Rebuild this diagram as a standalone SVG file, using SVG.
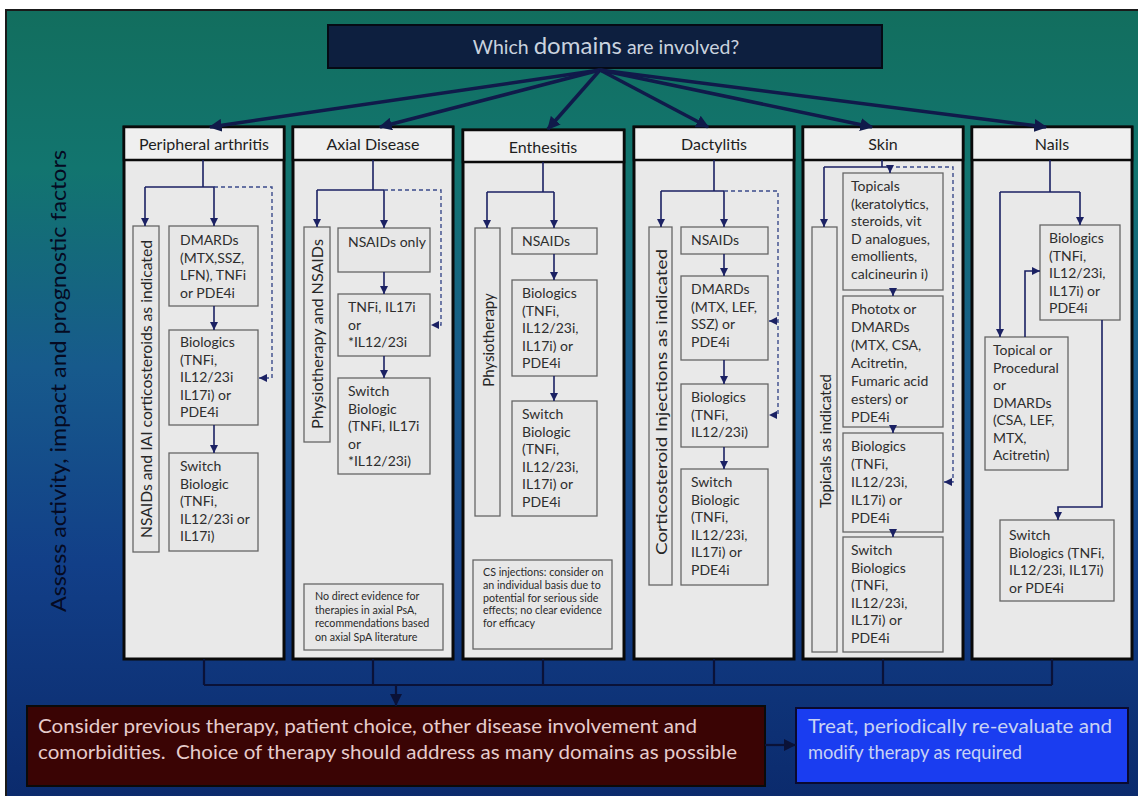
<svg xmlns="http://www.w3.org/2000/svg" width="1138" height="796" viewBox="0 0 1138 796">
<defs>
<linearGradient id="bg" x1="0" y1="0" x2="0" y2="1">
<stop offset="0" stop-color="#126e5e"/>
<stop offset="0.2" stop-color="#12756f"/>
<stop offset="0.45" stop-color="#175a8c"/>
<stop offset="0.7" stop-color="#123f88"/>
<stop offset="1" stop-color="#0b2a6c"/>
</linearGradient>
<marker id="ah" viewBox="0 0 10 10" refX="10" refY="5" markerWidth="8" markerHeight="8" markerUnits="userSpaceOnUse" orient="auto"><path d="M0,0 L10,5 L0,10 z" fill="#1b2163"/></marker>
<marker id="ahb" viewBox="0 0 10 10" refX="9" refY="5" markerWidth="13" markerHeight="13" markerUnits="userSpaceOnUse" orient="auto"><path d="M0,0 L10,5 L0,10 z" fill="#101a4a"/></marker>
<marker id="ahd" viewBox="0 0 10 10" refX="10" refY="5" markerWidth="12" markerHeight="12" markerUnits="userSpaceOnUse" orient="auto"><path d="M0,0 L10,5 L0,10 z" fill="#0a1238"/></marker>
<style>
.col{fill:#e9e9e9;stroke:#0a0a0a;stroke-width:3}
.hdr{fill:#efefef;stroke:#0a0a0a;stroke-width:2.5}
.ht{font-family:Lato,"Open Sans",sans-serif;font-size:16px;fill:#1e1e1e;text-anchor:middle}
.box{fill:#e7e7e7;stroke:#666;stroke-width:1.3}
.bt{font-family:Lato,"Open Sans",sans-serif;font-size:14px;fill:#2e2e2e}
.vt{font-family:Lato,"Open Sans",sans-serif;font-size:15px;fill:#262626;text-anchor:middle;dominant-baseline:central}
.nt{font-family:Lato,"Open Sans",sans-serif;font-size:10.7px;fill:#2a2a2a}
.c{fill:none;stroke:#1b2163;stroke-width:1.6}
.d{fill:none;stroke:#3a4a8a;stroke-width:1.4;stroke-dasharray:4 3}
.a{marker-end:url(#ah)}
.big{fill:none;stroke:#101a4a;stroke-width:3.5;marker-end:url(#ahb)}
.bot{fill:none;stroke:#0a1238;stroke-width:2.2}
.ad{marker-end:url(#ahd)}
</style>
</defs>
<rect x="0" y="0" width="1138" height="796" fill="#ffffff"/>
<rect x="6" y="10" width="1140" height="792" fill="url(#bg)" stroke="#1a1a1a" stroke-width="2"/>

<g id="left-label">
<text transform="translate(57,381) rotate(-90)" font-family="Lato,'Open Sans',sans-serif" font-size="22" fill="#050a22" text-anchor="middle" dominant-baseline="central" textLength="462" lengthAdjust="spacingAndGlyphs">Assess activity, impact and prognostic factors</text>
</g>

<g id="title">
<rect x="328" y="25" width="554" height="43" fill="#0d1f3f" stroke="#050a14" stroke-width="2"/>
<text x="606" y="54" font-family="Lato,'Open Sans',sans-serif" font-size="19.5" fill="#c9d2de" text-anchor="middle">Which <tspan font-size="24">domains</tspan> are involved?</text>
</g>

<!-- Column 1 -->
<g id="col-peripheral">
<rect class="col" x="124" y="127" width="160" height="532"/>
<rect class="hdr" x="124" y="127" width="160" height="33"/>
<text class="ht" x="204" y="150">Peripheral arthritis</text>
<g id="p-nsaids"><rect class="box" x="133" y="226" width="26" height="326"/><text class="vt" transform="translate(146,389) rotate(-90)" textLength="298" lengthAdjust="spacingAndGlyphs">NSAIDs and IAI corticosteroids as indicated</text></g>
<g id="p-dmards"><rect class="box" x="169" y="226" width="89" height="80"/><text class="bt" x="180" y="245">DMARDs<tspan x="180" dy="17.5">(MTX,SSZ,</tspan><tspan x="180" dy="17.5">LFN), TNFi</tspan><tspan x="180" dy="17.5">or PDE4i</tspan></text></g>
<g id="p-bio"><rect class="box" x="169" y="330" width="89" height="95"/><text class="bt" x="180" y="347">Biologics<tspan x="180" dy="17.5">(TNFi,</tspan><tspan x="180" dy="17.5">IL12/23i</tspan><tspan x="180" dy="17.5">IL17i) or</tspan><tspan x="180" dy="17.5">PDE4i</tspan></text></g>
<g id="p-switch"><rect class="box" x="169" y="453" width="89" height="98"/><text class="bt" x="180" y="471">Switch<tspan x="180" dy="17.5">Biologic</tspan><tspan x="180" dy="17.5">(TNFi,</tspan><tspan x="180" dy="17.5">IL12/23i or</tspan><tspan x="180" dy="17.5">IL17i)</tspan></text></g>
</g>

<!-- Column 2 -->
<g id="col-axial">
<rect class="col" x="293" y="127" width="160" height="532"/>
<rect class="hdr" x="293" y="127" width="160" height="33"/>
<text class="ht" x="373" y="150">Axial Disease</text>
<g id="a-physio"><rect class="box" x="304" y="227" width="26" height="215"/><text class="vt" transform="translate(317,334) rotate(-90)" textLength="190" lengthAdjust="spacingAndGlyphs">Physiotherapy and NSAIDs</text></g>
<g id="a-nsaids"><rect class="box" x="338" y="228" width="92" height="44"/><text class="bt" x="348" y="247">NSAIDs only</text></g>
<g id="a-tnfi"><rect class="box" x="338" y="294" width="92" height="62"/><text class="bt" x="348" y="312">TNFi, IL17i<tspan x="348" dy="17.5">or</tspan><tspan x="348" dy="17.5">*IL12/23i</tspan></text></g>
<g id="a-switch"><rect class="box" x="338" y="378" width="92" height="96"/><text class="bt" x="348" y="396">Switch<tspan x="348" dy="17.5">Biologic</tspan><tspan x="348" dy="17.5">(TNFi, IL17i</tspan><tspan x="348" dy="17.5">or</tspan><tspan x="348" dy="17.5">*IL12/23i)</tspan></text></g>
<g id="a-note"><rect class="box" x="304" y="584" width="139" height="66"/><text class="nt" x="315" y="600">No direct evidence for<tspan x="315" dy="13.5">therapies in axial PsA,</tspan><tspan x="315" dy="13.5">recommendations based</tspan><tspan x="315" dy="13.5">on axial SpA literature</tspan></text></g>
</g>

<!-- Column 3 -->
<g id="col-enthesitis">
<rect class="col" x="463" y="130" width="161" height="529"/>
<rect class="hdr" x="463" y="130" width="161" height="32"/>
<text class="ht" x="543" y="153">Enthesitis</text>
<g id="e-physio"><rect class="box" x="475" y="228" width="25" height="288"/><text class="vt" transform="translate(487.5,340) rotate(-90)">Physiotherapy</text></g>
<g id="e-nsaids"><rect class="box" x="512" y="228" width="85" height="26"/><text class="bt" x="522" y="246">NSAIDs</text></g>
<g id="e-bio"><rect class="box" x="512" y="280" width="85" height="96"/><text class="bt" x="522" y="298">Biologics<tspan x="522" dy="17.5">(TNFi,</tspan><tspan x="522" dy="17.5">IL12/23i,</tspan><tspan x="522" dy="17.5">IL17i) or</tspan><tspan x="522" dy="17.5">PDE4i</tspan></text></g>
<g id="e-switch"><rect class="box" x="512" y="401" width="85" height="115"/><text class="bt" x="522" y="419">Switch<tspan x="522" dy="17.5">Biologic</tspan><tspan x="522" dy="17.5">(TNFi,</tspan><tspan x="522" dy="17.5">IL12/23i,</tspan><tspan x="522" dy="17.5">IL17i) or</tspan><tspan x="522" dy="17.5">PDE4i</tspan></text></g>
<g id="e-note"><rect class="box" x="473" y="560" width="139" height="89"/><text class="nt" x="483" y="576">CS injections: consider on<tspan x="483" dy="12.8">an individual basis due to</tspan><tspan x="483" dy="12.8">potential for serious side</tspan><tspan x="483" dy="12.8">effects; no clear evidence</tspan><tspan x="483" dy="12.8">for efficacy</tspan></text></g>
</g>

<!-- Column 4 -->
<g id="col-dactylitis">
<rect class="col" x="634" y="127" width="160" height="532"/>
<rect class="hdr" x="634" y="127" width="160" height="33"/>
<text class="ht" x="714" y="150">Dactylitis</text>
<g id="d-cs"><rect class="box" x="649" y="227" width="23" height="358"/><text class="vt" transform="translate(660.5,402) rotate(-90)" textLength="306" lengthAdjust="spacingAndGlyphs">Corticosteroid Injections as indicated</text></g>
<g id="d-nsaids"><rect class="box" x="681" y="227" width="87" height="27"/><text class="bt" x="691" y="245">NSAIDs</text></g>
<g id="d-dmards"><rect class="box" x="681" y="276" width="87" height="84"/><text class="bt" x="691" y="294">DMARDs<tspan x="691" dy="17.5">(MTX, LEF,</tspan><tspan x="691" dy="17.5">SSZ) or</tspan><tspan x="691" dy="17.5">PDE4i</tspan></text></g>
<g id="d-bio"><rect class="box" x="681" y="384" width="87" height="63"/><text class="bt" x="691" y="402">Biologics<tspan x="691" dy="17.5">(TNFi,</tspan><tspan x="691" dy="17.5">IL12/23i)</tspan></text></g>
<g id="d-switch"><rect class="box" x="681" y="469" width="87" height="116"/><text class="bt" x="691" y="487">Switch<tspan x="691" dy="17.5">Biologic</tspan><tspan x="691" dy="17.5">(TNFi,</tspan><tspan x="691" dy="17.5">IL12/23i,</tspan><tspan x="691" dy="17.5">IL17i) or</tspan><tspan x="691" dy="17.5">PDE4i</tspan></text></g>
</g>

<!-- Column 5 -->
<g id="col-skin">
<rect class="col" x="803" y="127" width="160" height="532"/>
<rect class="hdr" x="803" y="127" width="160" height="33"/>
<text class="ht" x="883" y="150">Skin</text>
<g id="s-topicals-ind"><rect class="box" x="812" y="227" width="25" height="425"/><text class="vt" transform="translate(824.5,441) rotate(-90)">Topicals as indicated</text></g>
<g id="s-topicals"><rect class="box" x="843" y="173" width="100" height="117"/><text class="bt" x="851" y="191">Topicals<tspan x="851" dy="17.5">(keratolytics,</tspan><tspan x="851" dy="17.5">steroids, vit</tspan><tspan x="851" dy="17.5">D analogues,</tspan><tspan x="851" dy="17.5">emollients,</tspan><tspan x="851" dy="17.5">calcineurin i)</tspan></text></g>
<g id="s-phototx"><rect class="box" x="843" y="296" width="100" height="131"/><text class="bt" x="851" y="314">Phototx or<tspan x="851" dy="18">DMARDs</tspan><tspan x="851" dy="18">(MTX, CSA,</tspan><tspan x="851" dy="18">Acitretin,</tspan><tspan x="851" dy="18">Fumaric acid</tspan><tspan x="851" dy="18">esters) or</tspan><tspan x="851" dy="18">PDE4i</tspan></text></g>
<g id="s-bio"><rect class="box" x="843" y="433" width="100" height="99"/><text class="bt" x="851" y="451">Biologics<tspan x="851" dy="18">(TNFi,</tspan><tspan x="851" dy="18">IL12/23i,</tspan><tspan x="851" dy="18">IL17i) or</tspan><tspan x="851" dy="18">PDE4i</tspan></text></g>
<g id="s-switch"><rect class="box" x="843" y="537" width="100" height="115"/><text class="bt" x="851" y="555">Switch<tspan x="851" dy="17.5">Biologics</tspan><tspan x="851" dy="17.5">(TNFi,</tspan><tspan x="851" dy="17.5">IL12/23i,</tspan><tspan x="851" dy="17.5">IL17i) or</tspan><tspan x="851" dy="17.5">PDE4i</tspan></text></g>
</g>

<!-- Column 6 -->
<g id="col-nails">
<rect class="col" x="972" y="127" width="160" height="532"/>
<rect class="hdr" x="972" y="127" width="160" height="33"/>
<text class="ht" x="1052" y="150">Nails</text>
<g id="n-bio"><rect class="box" x="1040" y="225" width="80" height="95"/><text class="bt" x="1049" y="243">Biologics<tspan x="1049" dy="17.5">(TNFi,</tspan><tspan x="1049" dy="17.5">IL12/23i,</tspan><tspan x="1049" dy="17.5">IL17i) or</tspan><tspan x="1049" dy="17.5">PDE4i</tspan></text></g>
<g id="n-topical"><rect class="box" x="985" y="337" width="83" height="133"/><text class="bt" x="993" y="355">Topical or<tspan x="993" dy="17.5">Procedural</tspan><tspan x="993" dy="17.5">or</tspan><tspan x="993" dy="17.5">DMARDs</tspan><tspan x="993" dy="17.5">(CSA, LEF,</tspan><tspan x="993" dy="17.5">MTX,</tspan><tspan x="993" dy="17.5">Acitretin)</tspan></text></g>
<g id="n-switch"><rect class="box" x="1000" y="520" width="114" height="81"/><text class="bt" x="1009" y="540">Switch<tspan x="1009" dy="17.5">Biologics (TNFi,</tspan><tspan x="1009" dy="17.5">IL12/23i, IL17i)</tspan><tspan x="1009" dy="17.5">or PDE4i</tspan></text></g>
</g>

<g id="bottom-left">
<rect x="27" y="706" width="738" height="80" fill="#3a0404" stroke="#0a0a0a" stroke-width="2"/>
<text font-family="Lato,'Open Sans',sans-serif" font-size="19" fill="#e6cccc"><tspan x="38" y="733" textLength="659" lengthAdjust="spacingAndGlyphs">Consider previous therapy, patient choice, other disease involvement and</tspan><tspan x="38" y="759" textLength="699" lengthAdjust="spacingAndGlyphs">comorbidities.&#160; Choice of therapy should address as many domains as possible</tspan></text>
</g>
<g id="bottom-right">
<rect x="796" y="708" width="332" height="75" fill="#1a3df0" stroke="#0a0a30" stroke-width="2"/>
<text font-family="Lato,'Open Sans',sans-serif" font-size="19" fill="#c8d2f4"><tspan x="808" y="733" textLength="304" lengthAdjust="spacingAndGlyphs">Treat, periodically re-evaluate and</tspan><tspan x="808" y="759" textLength="214" lengthAdjust="spacingAndGlyphs">modify therapy as required</tspan></text>
</g>

<g id="connectors">
<path class="big" d="M600,70 L210,127"/>
<path class="big" d="M600,70 L380,127"/>
<path class="big" d="M600,70 L548,129"/>
<path class="big" d="M600,70 L708,127"/>
<path class="big" d="M600,70 L872,127"/>
<path class="big" d="M600,70 L1046,127"/>
<path class="c" d="M203,160 V187 M145,187 H215"/>
<path class="c a" d="M145,187 V226"/>
<path class="c a" d="M214,187 V226"/>
<path class="d a" d="M214,187 H272 V378 H259"/>
<path class="c a" d="M214,306 V330"/>
<path class="c a" d="M214,425 V453"/>
<path class="c" d="M373,160 V190 M317,190 H384"/>
<path class="c a" d="M317,190 V227"/>
<path class="c a" d="M384,190 V228"/>
<path class="d a" d="M384,190 H441 V325 H431"/>
<path class="c a" d="M384,272 V294"/>
<path class="c a" d="M384,356 V378"/>
<path class="c" d="M543,162 V192 M487,192 H554"/>
<path class="c a" d="M487,192 V228"/>
<path class="c a" d="M554,192 V228"/>
<path class="c a" d="M554,254 V280"/>
<path class="c a" d="M554,376 V401"/>
<path class="c" d="M714,160 V191 M661,191 H724"/>
<path class="c a" d="M661,191 V227"/>
<path class="c a" d="M724,191 V227"/>
<path class="d a" d="M724,191 H778 V415 H769"/>
<path class="d a" d="M778,321 H769"/>
<path class="c a" d="M724,254 V276"/>
<path class="c a" d="M724,360 V384"/>
<path class="c a" d="M724,447 V469"/>
<path class="c" d="M882,160 V167 M824,167 H882"/>
<path class="c a" d="M824,167 V227"/>
<path class="c a" d="M882,167 H890 V173"/>
<path class="d a" d="M896,167 H953 V482 H944"/>
<path class="c a" d="M893,290 V296"/>
<path class="c a" d="M893,427 V433"/>
<path class="c a" d="M893,532 V537"/>
<path class="c" d="M1050,160 V192 M1000,192 H1080"/>
<path class="c a" d="M1080,192 V225"/>
<path class="c a" d="M1000,192 V337"/>
<path class="c a" d="M1025,337 V271 H1040"/>
<path class="c a" d="M1102,320 V507 H1058 V520"/>
<path class="bot" d="M204,659 V685 M373,659 V685 M543,659 V685 M714,659 V685 M883,659 V685 M1052,659 V685 M204,685 H1052"/>
<path class="bot ad" d="M396,685 V706"/>
<path class="bot ad" d="M765,745 H796"/>
</g>
</svg>
